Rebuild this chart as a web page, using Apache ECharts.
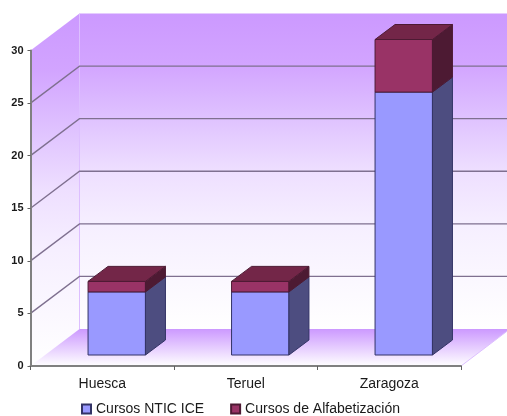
<!DOCTYPE html>
<html><head><meta charset="utf-8">
<style>html,body{margin:0;padding:0;background:#fff}#c{width:507px;height:416px;filter:blur(0.45px)}</style>
<script src="https://cdn.jsdelivr.net/npm/echarts@6/dist/echarts.min.js"></script>
</head><body><div id="c"></div>
<script>
const categories = ['Huesca', 'Teruel', 'Zaragoza'];
const cursosNtic = [6, 6, 25];
const cursosAlfabetizacion = [1, 1, 5];
const gridValues = [5, 10, 15, 20, 25];
const seriesNames = ['Cursos NTIC ICE', 'Cursos de Alfabetización'];

const WALL = [49, -37], BAR_START = [14.5, -11], BAR_DEPTH = [20, -15], BAR_FRACTION = 0.4;
const chart = echarts.init(document.getElementById('c'), null, {renderer: 'canvas'});
const LG = echarts.graphic.LinearGradient;
const poly = (points, style, z2) => ({type: 'polygon', shape: {points}, style, z2: z2 || 0, silent: true});

function renderWalls(params, api) {
  const g = params.coordSys, x0 = g.x, x1 = g.x + g.width, yT = g.y, yB = g.y + g.height;
  const [dx, dy] = WALL;
  const wallFill = () => new LG(0, 0, 0, 1, [
    {offset: 0, color: '#CC99FF'}, {offset: 0.16, color: '#D2A4FF'}, {offset: 0.33, color: '#DFC2FF'},
    {offset: 0.5, color: '#EEDFFF'}, {offset: 0.67, color: '#F6EFFF'}, {offset: 1, color: '#FFFFFF'}]);
  return {type: 'group', children: [
    poly([[x0 + dx, yT + dy], [x1 + dx, yT + dy], [x1 + dx, yB + dy], [x0 + dx, yB + dy]], {fill: wallFill()}),
    poly([[x0, yT], [x0 + dx, yT + dy], [x0 + dx, yB + dy], [x0, yB]], {fill: wallFill()}),
    poly([[x0, yB], [x0 + dx, yB + dy], [x1 + dx, yB + dy], [x1, yB]],
      {fill: new LG(0, 0, 0, 1, [{offset: 0, color: '#CC99FF'}, {offset: 1, color: '#FFFFFF'}])}),
    {type: 'line', shape: {x1: x0 + dx, y1: yT + dy, x2: x0 + dx, y2: yB + dy}, style: {stroke: '#DDBFFF', lineWidth: 1}},
    {type: 'line', shape: {x1: x1, y1: yB, x2: x1 + dx, y2: yB + dy}, style: {stroke: '#DDBFFF', lineWidth: 1}}
  ]};
}
function renderGrid(params, api) {
  const g = params.coordSys, x0 = g.x, x1 = g.x + g.width;
  const y = api.coord([0, api.value(1)])[1];
  const [dx, dy] = WALL, s = {stroke: '#7F7090', lineWidth: 1.4};
  return {type: 'group', children: [
    {type: 'polyline', shape: {points: [[x0, y], [x0 + dx, y + dy], [x1 + dx, y + dy]]}, style: Object.assign({fill: null}, s)}
  ]};
}
function makeBar(front, side, top, edge, withTop) {
  return function (params, api) {
    const i = api.value(0), lo = api.value(1), hi = api.value(2);
    const c = api.coord([i, lo])[0], w = api.size([1, 0])[0] * BAR_FRACTION;
    const yLo = api.coord([i, lo])[1] + BAR_START[1], yHi = api.coord([i, hi])[1] + BAR_START[1];
    const l = c - w / 2 + BAR_START[0], r = l + w, [dx, dy] = BAR_DEPTH;
    const st = f => ({fill: f, stroke: edge, lineWidth: 1, lineJoin: 'round'});
    const kids = [
      poly([[l, yLo], [r, yLo], [r, yHi], [l, yHi]], st(front)),
      poly([[r, yLo], [r + dx, yLo + dy], [r + dx, yHi + dy], [r, yHi]], st(side))
    ];
    if (withTop) kids.push(poly([[l, yHi], [r, yHi], [r + dx, yHi + dy], [l + dx, yHi + dy]], st(top)));
    return {type: 'group', children: kids};
  };
}
const lowerData = categories.map((_, i) => [i, 0, cursosNtic[i]]);
const upperData = categories.map((_, i) => [i, cursosNtic[i], cursosNtic[i] + cursosAlfabetizacion[i]]);
const labelColor = '#1a1a1a';
chart.setOption({
  animation: false,
  backgroundColor: '#fff',
  textStyle: {fontFamily: '"Liberation Sans", Arial, sans-serif'},
  grid: {left: 30.5, right: 46, top: 50.5, bottom: 50, containLabel: false},
  legend: {
    data: seriesNames, left: 76, top: 397, itemWidth: 9, itemHeight: 9, itemGap: 26,
    icon: 'rect', selectedMode: false,
    textStyle: {fontSize: 14, color: labelColor, fontFamily: '"Liberation Sans", Arial, sans-serif'}
  },
  xAxis: {
    type: 'category', data: categories, boundaryGap: true, z: 5,
    axisLine: {lineStyle: {color: '#808080', width: 2}},
    axisTick: {show: true, length: 4, lineStyle: {color: '#606060', width: 1}},
    axisLabel: {fontSize: 14, color: labelColor, margin: 11},
    splitLine: {show: false}
  },
  yAxis: {
    type: 'value', min: 0, max: 30, interval: 5, z: 5,
    axisLine: {show: true, lineStyle: {color: '#808080', width: 2}},
    axisTick: {show: true, length: 3, lineStyle: {color: '#606060', width: 1}},
    axisLabel: {fontSize: 11, fontWeight: 'bold', color: labelColor, margin: 7},
    splitLine: {show: false}
  },
  series: [
    {type: 'custom', name: 'walls', z: 1, renderItem: renderWalls, data: [[0, 0]], silent: true, encode: {x: 0, y: 1}},
    {type: 'custom', name: 'gridlines', z: 2, renderItem: renderGrid, data: gridValues.map(v => [0, v]), silent: true, encode: {x: 0, y: 1}},
    {type: 'custom', name: seriesNames[0], z: 3, itemStyle: {color: '#9999FF', borderColor: '#333366', borderWidth: 1},
      renderItem: makeBar('#9999FF', '#4D4D80', '#7373BF', '#333366', false), data: lowerData, encode: {x: 0, y: [1, 2]}},
    {type: 'custom', name: seriesNames[1], z: 3, itemStyle: {color: '#993366', borderColor: '#4D1A33', borderWidth: 1},
      renderItem: makeBar('#993366', '#4D1A33', '#732648', '#4D1A33', true), data: upperData, encode: {x: 0, y: [1, 2]}}
  ]
});
</script></body></html>
